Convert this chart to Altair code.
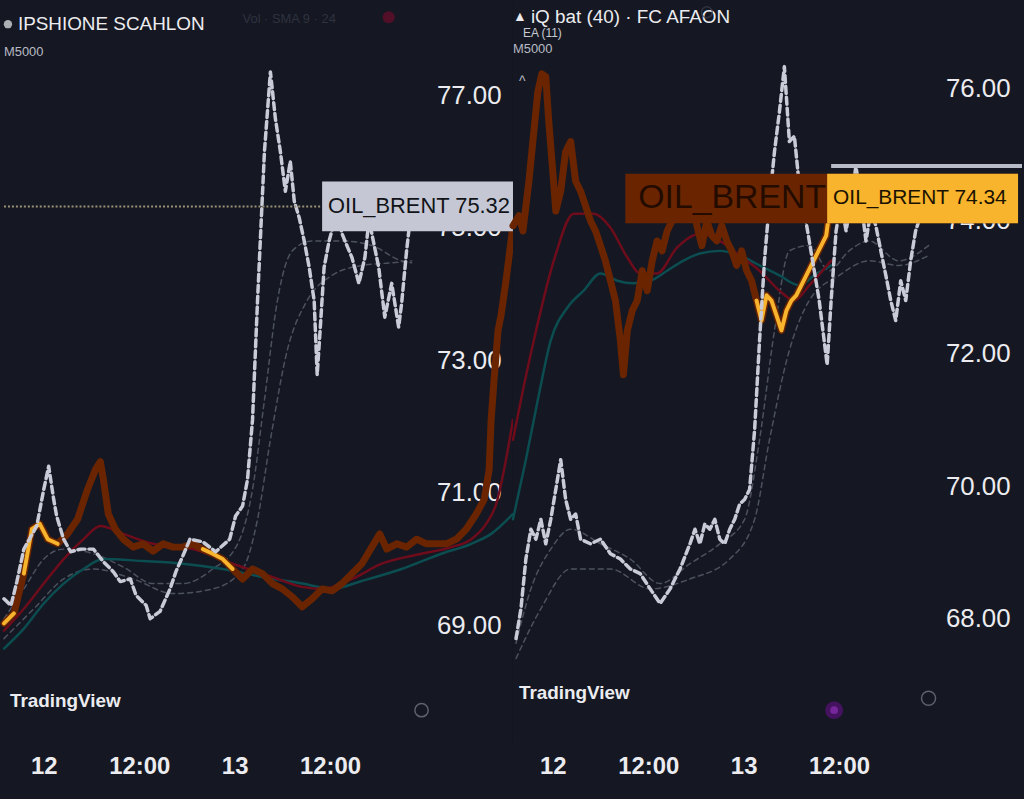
import altair as alt
import pandas as pd

BG = "#151822"
BROWN = "#6a2500"
YELLOW = "#f7b42c"
WHITE_LINE = "#c9ccd8"
RED_MA = "#6e0c1c"
TEAL_MA = "#0b4d50"
GREY_MA = "#4c5160"
TXT = "#ececf0"

# ---------------- left chart ----------------
left_orange_h = [-5.0, -3.75, -2.5, -1.5, -0.5, 0.5, 1.75, 3.0, 4.25, 5.5,
                 6.5, 7.12, 7.5, 8.12, 9.0, 10.0, 11.25, 12.5, 13.75, 15.0,
                 16.25, 17.5, 18.75, 20.0, 21.25, 22.5, 23.75, 25.0, 26.25, 27.5,
                 28.75, 30.0, 31.25, 32.5, 33.75, 35.0, 36.25, 37.5, 38.75, 40.0,
                 41.25, 42.25, 43.12, 44.38, 45.62, 46.88, 48.12, 49.38, 50.62, 51.88,
                 53.12, 54.38, 55.38, 56.0, 56.25, 56.62, 57.12, 57.5, 58.12, 58.75, 59.0]
left_orange_p = [69.03, 69.18, 69.78, 70.45, 70.53, 70.30, 70.23, 70.38, 70.60, 71.05,
                 71.35, 71.47, 71.20, 70.68, 70.45, 70.30, 70.18, 70.23, 70.12, 70.23,
                 70.18, 70.18, 70.23, 70.15, 70.08, 70.00, 69.85, 69.70, 69.85, 69.78,
                 69.63, 69.55, 69.43, 69.28, 69.40, 69.55, 69.52, 69.63, 69.78, 69.93,
                 70.18, 70.38, 70.15, 70.23, 70.18, 70.30, 70.23, 70.23, 70.23, 70.30,
                 70.45, 70.68, 70.90, 71.35, 72.10, 72.70, 73.45, 73.68, 74.20, 74.80, 75.03]
left_yellow_ranges = [(0, 1), (2, 6), (23, 26)]

left_white_h = [-5.0, -4.12, -3.38, -2.5, -0.88, 0.0, 0.62, 1.25, 1.62, 2.5,
                3.38, 4.62, 6.25, 7.5, 8.75, 9.62, 10.88, 11.62, 12.88, 13.38,
                14.62, 15.88, 16.62, 17.5, 18.38, 20.0, 21.62, 23.38, 24.12, 25.0,
                25.62, 26.25, 26.88, 27.75, 28.5, 29.12, 29.75, 30.38, 31.0, 31.5,
                32.12, 32.75, 33.38, 34.0, 34.38, 34.75, 35.25, 35.88, 36.88, 37.5,
                38.12, 38.75, 39.62, 40.38, 40.88, 41.25, 42.12, 42.88, 43.75, 44.62,
                45.0, 45.62, 46.25]
left_white_p = [69.40, 69.30, 69.66, 70.15, 70.50, 71.05, 71.40, 70.90, 70.65, 70.30,
                70.11, 70.15, 70.15, 69.96, 69.81, 69.66, 69.70, 69.45, 69.30, 69.10,
                69.21, 69.55, 69.81, 70.05, 70.30, 70.26, 70.11, 70.30, 70.65, 70.80,
                71.20, 72.10, 73.90, 76.15, 77.35, 76.65, 76.15, 75.55, 76.00, 75.40,
                75.15, 74.80, 74.40, 73.90, 72.78, 73.45, 74.40, 74.80, 75.25, 74.91,
                74.73, 74.55, 74.16, 74.55, 75.10, 74.91, 74.40, 73.65, 74.16, 73.50,
                73.86, 74.65, 75.32]

left_red_h = [-5, -2.5, 0, 2.5, 5, 7.12, 10, 13.75, 18.75, 23.75, 28.75, 32.5, 35,
              38.75, 42.5, 47.5, 51.25, 53.75, 55.62, 56.88, 58.12, 59]
left_red_p = [68.92, 69.25, 69.63, 70.00, 70.30, 70.50, 70.38, 70.23, 70.15, 69.93, 69.73,
              69.58, 69.55, 69.70, 69.93, 70.08, 70.18, 70.30, 70.53, 70.83, 71.50, 72.10]
left_teal_h = [-5, -2.5, 0, 2.5, 5, 7.5, 12.5, 17.5, 22.5, 27.5, 32.5, 36.25, 40, 45,
               50, 53.75, 56.25, 59]
left_teal_p = [68.65, 68.95, 69.33, 69.63, 69.85, 70.00, 69.97, 69.93, 69.85, 69.73, 69.63,
               69.55, 69.67, 69.85, 70.08, 70.23, 70.38, 70.68]
left_ma1_h = [-5, -2.5, 0, 2.5, 6.25, 10, 13.75, 17.5, 21.25, 24.38, 26.25, 27.75,
              29.38, 31.25, 33.75, 37.5, 41.25, 45, 46.25]
left_ma1_p = [69.10, 69.55, 70.00, 70.15, 70.08, 69.88, 69.63, 69.63, 69.85, 70.23, 71.05,
              72.40, 73.90, 74.65, 74.80, 74.80, 74.73, 74.50, 74.47]
left_ma2_h = [-5, -1.25, 2.5, 6.25, 11.25, 16.25, 21.25, 25, 26.88, 28.5, 30.62, 33.12,
              36.25, 40, 43.75, 46.25]
left_ma2_p = [68.80, 69.25, 69.70, 69.85, 69.70, 69.48, 69.55, 69.85, 70.60, 71.80, 73.15,
              73.90, 74.28, 74.43, 74.47, 74.50]

left_ticks = [69, 71, 73, 75, 77]
left_domain = [67.225, 78.4]
left_last = left_white_p[-1]

# ---------------- right chart ----------------
right_orange_h = [-5.0, -4.25, -3.75, -3.0, -2.38, -1.88, -1.38, -0.88, -0.5, 0.0,
                  0.38, 1.0, 1.62, 2.25, 2.88, 3.5, 4.12, 4.75, 5.38, 6.0,
                  6.62, 7.25, 7.88, 8.5, 8.88, 9.38, 10.0, 10.62, 11.25, 11.88,
                  12.5, 13.12, 13.75, 14.38, 15.0, 15.62, 16.25, 16.88, 17.5, 18.12,
                  18.75, 19.38, 20.0, 20.62, 21.25, 21.88, 22.5, 23.12, 23.75, 24.38,
                  25.0, 25.62, 26.25, 26.88, 27.5, 28.12, 28.75, 29.38, 30.0, 30.62,
                  31.25, 31.88, 32.5, 33.12, 33.75, 34.38, 35.0]
right_orange_p = [73.93, 74.08, 73.85, 74.60, 75.35, 75.95, 76.22, 76.18, 75.50, 74.75,
                  74.15, 74.45, 75.05, 75.20, 74.60, 74.45, 74.23, 74.00, 73.85, 73.63,
                  73.40, 73.10, 72.80, 72.20, 71.68, 72.35, 72.65, 72.80, 73.25, 72.95,
                  73.40, 73.70, 73.55, 73.85, 74.00, 74.30, 74.45, 74.15, 74.30, 73.93,
                  73.63, 74.00, 73.78, 73.70, 73.93, 73.70, 73.55, 73.33, 73.55, 73.25,
                  73.10, 72.80, 72.50, 72.88, 72.80, 72.58, 72.35, 72.65, 72.80, 72.88,
                  73.03, 73.18, 73.33, 73.48, 73.63, 73.78, 74.34]
right_yellow_ranges = [(51, 66)]

right_white_h = [-4.62, -4.0, -3.38, -2.75, -2.12, -1.5, -0.88, -0.25, 0.38, 1.0,
                 1.62, 2.25, 2.88, 3.5, 4.75, 6.0, 7.25, 8.5, 9.75, 11.0,
                 12.25, 13.5, 14.75, 16.0, 17.25, 17.88, 18.5, 19.12, 19.75, 20.38,
                 21.0, 21.62, 22.25, 22.88, 23.5, 24.12, 24.75, 25.38, 26.0, 26.62,
                 27.25, 27.88, 28.5, 29.12, 29.75, 30.38, 31.0, 31.62, 32.25, 32.88,
                 33.5, 34.12, 34.5, 35.0, 35.62, 36.25, 36.88, 37.5, 38.12, 38.75,
                 39.38, 40.0, 40.62, 41.25, 41.88, 42.5, 43.12, 43.75, 44.38, 45.0,
                 45.62, 46.25, 46.88, 47.25]
right_white_p = [67.70, 68.15, 68.90, 69.35, 69.20, 69.50, 69.13, 69.50, 69.95, 70.40,
                 69.80, 69.50, 69.58, 69.20, 69.13, 69.20, 68.98, 68.90, 68.75, 68.68,
                 68.45, 68.23, 68.45, 68.75, 69.13, 69.35, 69.13, 69.43, 69.35, 69.50,
                 69.20, 69.13, 69.35, 69.50, 69.73, 69.80, 69.95, 70.85, 72.20, 73.40,
                 74.30, 75.05, 75.65, 76.33, 75.20, 75.28, 74.53, 74.15, 73.70, 73.25,
                 72.80, 72.20, 71.83, 72.80, 73.85, 74.30, 73.85, 74.30, 74.83, 74.30,
                 73.70, 74.15, 73.93, 73.55, 73.18, 72.80, 72.50, 73.10, 72.80, 73.40,
                 73.85, 74.08, 74.30, 74.15]

right_red_h = [-5, -4, -2.38, 0.25, 2.62, 5.12, 7.25, 9.38, 11, 13.12, 15.62, 18.5,
               21, 23.5, 26, 28.5, 30.38, 32.25, 35]
right_red_p = [70.70, 71.30, 72.20, 73.45, 74.11, 74.11, 73.90, 73.45, 73.21, 73.21,
               73.60, 73.81, 73.70, 73.48, 73.25, 72.95, 72.80, 73.03, 73.40]
right_teal_h = [-5, -3.38, -1.88, -0.25, 1.88, 3.88, 6, 8.12, 10.12, 12.25, 14.38,
                16.38, 18.5, 21, 23.5, 26, 28.5, 31, 32.88, 35]
right_teal_p = [69.50, 70.40, 71.30, 72.20, 72.70, 72.95, 73.21, 73.10, 73.06, 73.10,
                73.25, 73.40, 73.51, 73.55, 73.48, 73.33, 73.18, 73.03, 73.18, 73.33]
right_ma1_h = [-4.62, -2.75, -0.25, 2.25, 6, 9.75, 13.5, 17.25, 21, 24.12, 26, 27.88,
               29.75, 32.25, 34.75, 37.25, 39.75, 43.5, 47.25]
right_ma1_p = [67.63, 68.45, 69.05, 69.35, 69.13, 68.90, 68.53, 68.83, 69.13, 69.50,
               70.70, 72.35, 73.55, 73.63, 73.25, 73.55, 73.70, 73.40, 73.63]
right_ma2_h = [-4.62, -1.5, 2.25, 7.25, 12.25, 17.25, 22.25, 25.38, 27.25, 29.75,
               32.25, 36, 39.75, 43.5, 47.25]
right_ma2_p = [67.40, 68.15, 68.75, 68.75, 68.45, 68.60, 68.90, 69.50, 70.70, 72.05,
               72.80, 73.18, 73.40, 73.33, 73.48]

right_ticks = [68, 70, 72, 74, 76]
right_domain = [66.125, 77.3]
right_last = right_orange_p[-1]
right_guide = 74.83

# time axis: hours from midnight of the 12th
x_ticks = [0, 12, 24, 36]
x_domain = [-5, 59]

BOX_HALF = 0.375  # half height of the price tags, in price units
FONT = "Liberation Sans"


def frame(h, p):
    return pd.DataFrame({"h": h, "p": p})


def segments(h, p, ranges):
    rows = []
    for k, (a, b) in enumerate(ranges):
        for i in range(a, b + 1):
            rows.append({"h": h[i], "p": p[i], "seg": k})
    return pd.DataFrame(rows)


def price_panel(s, domain, ticks):
    x_enc = alt.X(
        "h:Q",
        scale=alt.Scale(domain=x_domain, nice=False, zero=False),
        axis=alt.Axis(
            values=x_ticks,
            labelExpr="datum.value == 0 ? '12' : datum.value == 24 ? '13' : '12:00'",
            labelFontSize=24, labelFontWeight="bold", labelColor=TXT, labelFont=FONT,
            labelPadding=12, ticks=False, domain=False, grid=False, title=None,
            minExtent=54, maxExtent=54,
        ),
    )
    y_enc = alt.Y(
        "p:Q",
        scale=alt.Scale(domain=domain, nice=False, zero=False),
        axis=alt.Axis(
            orient="right", offset=-80, values=ticks, format=".2f",
            labelColor=TXT, labelFontSize=26, labelFont=FONT, labelPadding=3,
            labelAlign="left", labelBaseline="middle",
            ticks=False, domain=False, grid=False, title=None,
        ),
    )

    def line(df, color, width, dash=None, interp="linear", detail=None):
        kw = dict(color=color, strokeWidth=width, interpolate=interp,
                  strokeJoin="round", strokeCap="round")
        if dash:
            kw["strokeDash"] = dash
        enc = dict(x=x_enc, y=y_enc, order="h:Q")
        if detail:
            enc["detail"] = detail
        return alt.Chart(df).mark_line(**kw).encode(**enc)

    layers = [
        line(frame(*s["ma2"]), GREY_MA, 1.5, [5, 4], "monotone"),
        line(frame(*s["ma1"]), GREY_MA, 1.5, [5, 4], "monotone"),
        line(frame(*s["teal"]), TEAL_MA, 2.5, None, "monotone"),
        line(frame(*s["red"]), RED_MA, 2.5, None, "monotone"),
        line(frame(*s["orange"]), BROWN, 7),
        line(segments(*s["orange"], s["yellow"]), YELLOW, 4, detail="seg:N"),
        line(frame(*s["white"]), WHITE_LINE, 3.5, [7, 4]),
    ]
    return layers


def text_at(txt, x, y, size, color=TXT, weight="normal", align="left"):
    return alt.Chart(pd.DataFrame({"t": [txt]})).mark_text(
        align=align, baseline="middle", fontSize=size, font=FONT,
        fontWeight=weight, color=color,
    ).encode(x=alt.value(x), y=alt.value(y), text="t:N")


def dot(x, y, size, fill=None, stroke=None, width=1.5):
    kw = dict(size=size, shape="circle", filled=fill is not None)
    if fill is not None:
        kw["color"] = fill
    else:
        kw["color"] = stroke
        kw["strokeWidth"] = width
    return alt.Chart(pd.DataFrame({"k": [0]})).mark_point(**kw).encode(
        x=alt.value(x), y=alt.value(y))


def tag(value, x0, x1, color):
    return alt.Chart(one).mark_rect(color=color).encode(
        x=alt.value(x0), x2=alt.value(x1),
        y=alt.Y(datum=value + BOX_HALF), y2=alt.Y2(datum=value - BOX_HALF),
    )


def tag_text(txt, value, x, size, color):
    return alt.Chart(pd.DataFrame({"t": [txt]})).mark_text(
        align="left", baseline="middle", fontSize=size, font=FONT, color=color
    ).encode(x=alt.value(x), y=alt.Y(datum=value), text="t:N")


one = pd.DataFrame({"k": [0]})

# ----- left panel -----
left_series = {
    "orange": (left_orange_h, left_orange_p),
    "yellow": left_yellow_ranges,
    "white": (left_white_h, left_white_p),
    "red": (left_red_h, left_red_p),
    "teal": (left_teal_h, left_teal_p),
    "ma1": (left_ma1_h, left_ma1_p),
    "ma2": (left_ma2_h, left_ma2_p),
}
L_layers = price_panel(left_series, left_domain, left_ticks)

left_price_line = alt.Chart(one).mark_rule(
    color="#9a9274", strokeWidth=2, strokeDash=[2, 2]
).encode(x=alt.value(0), x2=alt.value(320), y=alt.Y(datum=left_last))

left_deco = [
    dot(4, 22, 70, fill="#f0f0f0"),
    text_at("IPSHIONE SCAHLON", 14, 22, 19),
    text_at("M5000", 0, 50, 13, color="#b8bac4"),
    text_at("Vol · SMA 9 · 24", 240, 17, 13, color="#2e3240"),
    dot(387, 15, 150, fill="#6b0d2a"),
    text_at("TradingView", 6, 703, 19, weight="bold"),
    dot(420, 712, 180, stroke="#7d8190"),
]

left = alt.layer(
    *L_layers, left_price_line,
    tag(left_last, 320, 512, "#c5c8d4"),
    tag_text(f"OIL_BRENT {left_last:.2f}", left_last, 326, 22, "#111318"),
    *left_deco
).properties(width=512, height=745)

# ----- right panel -----
right_series = {
    "orange": (right_orange_h, right_orange_p),
    "yellow": right_yellow_ranges,
    "white": (right_white_h, right_white_p),
    "red": (right_red_h, right_red_p),
    "teal": (right_teal_h, right_teal_p),
    "ma1": (right_ma1_h, right_ma1_p),
    "ma2": (right_ma2_h, right_ma2_p),
}
R_layers = price_panel(right_series, right_domain, right_ticks)

right_guide_line = alt.Chart(one).mark_rule(color="#b8bcc8", strokeWidth=4).encode(
    x=alt.value(320), x2=alt.value(512), y=alt.Y(datum=right_guide))

right_deco = [
    text_at("▲", 0, 15, 14),
    text_at("iQ bat (40) · FC AFAON", 18, 15, 19),
    dot(195, 10, 120, stroke="#3c404e"),
    text_at("EA (11)", 10, 31, 12, color="#c8cad2"),
    text_at("M5000", 0, 47, 13, color="#b8bac4"),
    text_at("^", 6, 80, 14, color="#b8bac4"),
    text_at("TradingView", 6, 695, 19, weight="bold"),
    dot(323, 712, 320, fill="#5a0f7a"),
    dot(323, 712, 60, fill="#8a2fb4"),
    dot(418, 700, 200, stroke="#7d8190"),
]

right = alt.layer(
    *R_layers, right_guide_line,
    tag(right_last, 113, 508, BROWN),
    tag_text("OIL_BRENT", right_last, 126, 34, "#230b00"),
    tag(right_last, 316, 508, YELLOW),
    tag_text(f"OIL_BRENT {right_last:.2f}", right_last, 322, 21, "#1a1200"),
    *right_deco
).properties(width=512, height=745)

chart = alt.hconcat(left, right, spacing=0, bounds="flush").properties(
    background=BG, padding=0
).configure_view(stroke=None, fill=BG)

chart.save("out.html", embed_options={"renderer": "svg", "actions": False})
